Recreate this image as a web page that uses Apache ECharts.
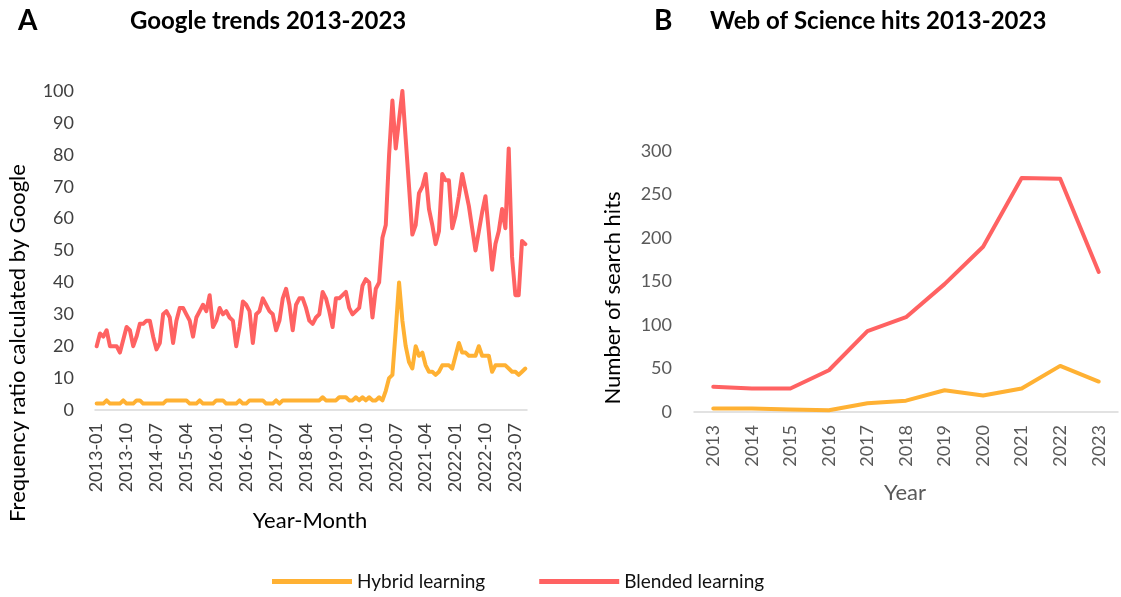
<!DOCTYPE html>
<html><head><meta charset="utf-8">
<script src="https://cdn.jsdelivr.net/npm/echarts@6/dist/echarts.min.js"></script>
<style>html,body{margin:0;padding:0;background:#fff}#c{width:1121px;height:597px}</style>
</head><body><div id="c"></div>
<script>
// ---- Data ----
const startYear = 2013, monthCount = 130; // 2013-01 .. 2023-10
const months = [];
for (let i = 0; i < monthCount; i++) {
  const y = startYear + Math.floor(i / 12), m = (i % 12) + 1;
  months.push(y + '-' + (m < 10 ? '0' + m : m));
}
const googleBlended = [
  20,24,23,25,20,20,20,18,22,26,
  25,20,23,27,27,28,28,23,19,21,
  30,31,29,21,28,32,32,30,28,23,
  29,31,33,31,36,26,28,32,30,31,
  29,28,20,26,34,33,31,21,30,31,
  35,33,31,30,25,28,35,38,33,25,
  33,35,35,32,28,27,29,30,37,35,
  31,26,35,35,36,37,32,30,31,32,
  39,41,40,29,38,40,54,58,80,97,
  82,91,100,85,70,55,58,68,70,74,
  63,58,52,56,74,72,72,57,61,67,
  74,69,64,57,50,56,62,67,56,44,
  52,56,63,57,82,48,36,36,53,52
];
const googleHybrid = [
  2,2,2,3,2,2,2,2,3,2,
  2,2,3,3,2,2,2,2,2,2,
  2,3,3,3,3,3,3,3,2,2,
  2,3,2,2,2,2,3,3,3,2,
  2,2,2,3,2,2,3,3,3,3,
  3,2,2,2,3,2,3,3,3,3,
  3,3,3,3,3,3,3,3,4,3,
  3,3,3,4,4,4,3,3,4,3,
  4,3,4,3,3,4,3,6,10,11,
  25,40,28,20,15,13,20,17,18,14,
  12,12,11,12,14,14,14,13,17,21,
  18,18,17,17,17,20,17,17,17,12,
  14,14,14,14,13,12,12,11,12,13
];
const years = ['2013','2014','2015','2016','2017','2018','2019','2020','2021','2022','2023'];
const wosBlended = [29,27,27,48,93,109,147,190,269,268,161];
const wosHybrid  = [4,4,3,2,10,13,25,19,27,53,35];

// ---- Style ----
const RED = '#ff6262', YEL = '#ffb133';
const FF = 'Lato';

const chart = echarts.init(document.getElementById('c'), null, {renderer: 'canvas'});
chart.setOption({
  animation: false,
  backgroundColor: '#fff',
  textStyle: {fontFamily: FF},
  title: [
    {text: 'A', left: 18, top: 7, padding: 0, textStyle: {fontFamily: FF, fontSize: 28, fontWeight: 'bold', color: '#000'}},
    {text: 'Google trends 2013-2023', left: 130, top: 9, padding: 0, textStyle: {fontFamily: FF, fontSize: 24, fontWeight: 'bold', color: '#000'}},
    {text: 'B', left: 654, top: 7, padding: 0, textStyle: {fontFamily: FF, fontSize: 28, fontWeight: 'bold', color: '#000'}},
    {text: 'Web of Science hits 2013-2023', left: 710, top: 9, padding: 0, textStyle: {fontFamily: FF, fontSize: 24, fontWeight: 'bold', color: '#000'}}
  ],
  legend: {
    left: 272, top: 572, padding: 0, icon: 'rect', itemWidth: 80, itemHeight: 5, itemGap: 54,
    textStyle: {fontFamily: FF, fontSize: 19, color: '#111'},
    data: ['Hybrid learning', 'Blended learning']
  },
  grid: [
    {left: 95, right: 594, top: 91, bottom: 187},
    {left: 694, right: 3, top: 151, bottom: 185}
  ],
  xAxis: [
    {type: 'category', gridIndex: 0, data: months, boundaryGap: true,
     axisLine: {lineStyle: {color: '#d9d9d9', width: 1.5}}, axisTick: {show: false},
     axisLabel: {interval: 8, rotate: 90, fontSize: 18, color: '#404040', margin: 13, fontFamily: FF}},
    {type: 'category', gridIndex: 1, data: years, boundaryGap: true,
     axisLine: {lineStyle: {color: '#d9d9d9', width: 1.5}}, axisTick: {show: false},
     axisLabel: {interval: 0, rotate: 90, fontSize: 18, color: '#595959', margin: 13, fontFamily: FF}}
  ],
  yAxis: [
    {type: 'value', gridIndex: 0, min: 0, max: 100, interval: 10,
     axisLine: {show: false}, axisTick: {show: false}, splitLine: {show: false},
     axisLabel: {fontSize: 18, color: '#404040', margin: 21, fontFamily: FF}},
    {type: 'value', gridIndex: 1, min: 0, max: 300, interval: 50,
     axisLine: {show: false}, axisTick: {show: false}, splitLine: {show: false},
     axisLabel: {fontSize: 18, color: '#595959', margin: 22, fontFamily: FF}}
  ],
  series: [
    {name: 'Hybrid learning', type: 'line', xAxisIndex: 0, yAxisIndex: 0, data: googleHybrid,
     symbol: 'none', color: YEL, lineStyle: {width: 4, color: YEL, join: 'round', cap: 'round'}},
    {name: 'Blended learning', type: 'line', xAxisIndex: 0, yAxisIndex: 0, data: googleBlended,
     symbol: 'none', color: RED, lineStyle: {width: 4, color: RED, join: 'round', cap: 'round'}},
    {name: 'Hybrid learning', type: 'line', xAxisIndex: 1, yAxisIndex: 1, data: wosHybrid,
     symbol: 'none', color: YEL, lineStyle: {width: 4, color: YEL, join: 'round', cap: 'round'}},
    {name: 'Blended learning', type: 'line', xAxisIndex: 1, yAxisIndex: 1, data: wosBlended,
     symbol: 'none', color: RED, lineStyle: {width: 4, color: RED, join: 'round', cap: 'round'}}
  ],
  graphic: [
    {type: 'text', x: 18, y: 343, rotation: Math.PI / 2,
     style: {text: 'Frequency ratio calculated by Google', fontFamily: FF, fontSize: 22, fill: '#000', align: 'center', verticalAlign: 'middle'}},
    {type: 'text', x: 310, y: 521,
     style: {text: 'Year-Month', fontFamily: FF, fontSize: 22, fill: '#000', align: 'center', verticalAlign: 'middle'}},
    {type: 'text', x: 613, y: 298, rotation: Math.PI / 2,
     style: {text: 'Number of search hits', fontFamily: FF, fontSize: 22, fill: '#000', align: 'center', verticalAlign: 'middle'}},
    {type: 'text', x: 905, y: 493,
     style: {text: 'Year', fontFamily: FF, fontSize: 22, fill: '#595959', align: 'center', verticalAlign: 'middle'}}
  ]
});
</script>
</body></html>
